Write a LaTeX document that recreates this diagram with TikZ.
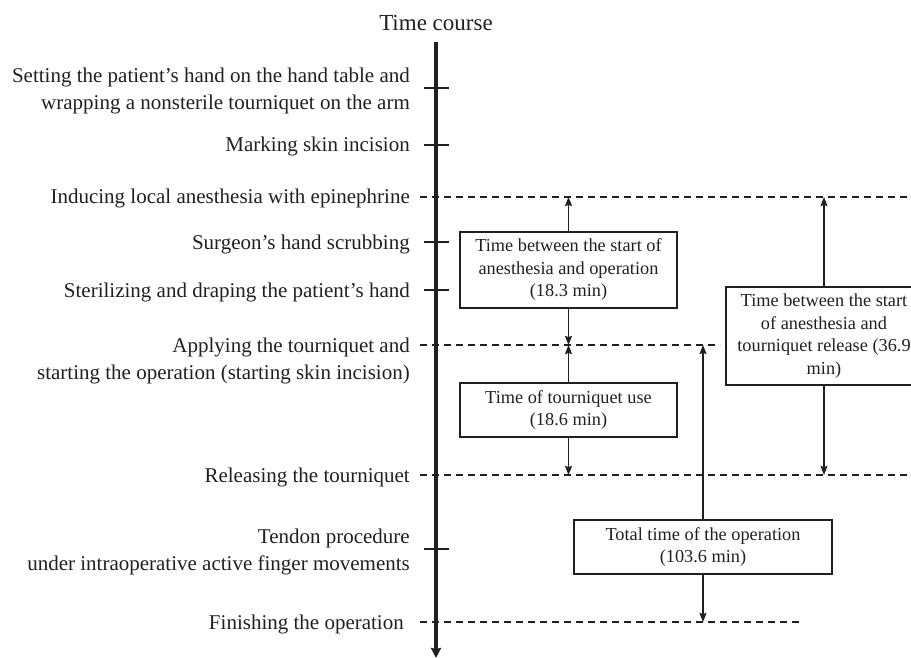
\documentclass[tikz,border=0pt]{standalone}
\usepackage{fontspec}
\setmainfont{Liberation Serif}
\usetikzlibrary{arrows.meta}
\definecolor{ink}{RGB}{35,31,32}
\begin{document}
\begin{tikzpicture}[x=1pt,y=-1pt, color=ink,
  lbl/.style={anchor=base east, inner sep=0pt, font=\fontsize{21}{27}\selectfont, align=right},
  mlbl/.style={anchor=east, inner sep=0pt, font=\fontsize{21}{27}\selectfont, align=right},
  tbox/.style={draw, line width=1.3pt, inner sep=0pt, align=center, font=\fontsize{18.3}{22.5}\selectfont},
  tickln/.style={line width=1.5pt},
  guide/.style={dash pattern=on 7pt off 5pt, line width=1.3pt},
  arr/.style={line width=1.3pt, -{Stealth[length=9pt,width=7pt,inset=1pt]}}
]
\useasboundingbox (0,0) rectangle (911,658);

% axis
\coordinate (axtop) at (436,42);
\coordinate (axbot) at (436,658);
\draw[line width=3.2pt, -{Stealth[length=10pt,width=10pt,inset=1pt]}] (axtop) -- (axbot);
\node[font=\fontsize{23}{27}\selectfont, anchor=base, inner sep=0pt] (title) at (436,31) {Time course};

% ticks
\draw[tickln] (424,88) -- (449,88);
\draw[tickln] (424,145) -- (449,145);
\draw[tickln] (424,242) -- (449,242);
\draw[tickln] (424,290) -- (449,290);
\draw[tickln] (424,549) -- (449,549);

% guide lines
\coordinate (d1a) at (420,197); \coordinate (d1b) at (911,197);
\coordinate (d2a) at (420,345); \coordinate (d2b) at (720,345);
\coordinate (d3a) at (420,475); \coordinate (d3b) at (911,475);
\coordinate (d4a) at (420,622); \coordinate (d4b) at (802,622);
\draw[guide] (d1a) -- (d1b);
\draw[guide] (d2a) -- (d2b);
\draw[guide] (d3a) -- (d3b);
\draw[guide] (d4a) -- (d4b);

% labels
\node[mlbl] (l1) at (410,90.6) {Setting the patient’s hand on the hand table and\\wrapping a nonsterile tourniquet on the arm};
\node[lbl] (l2) at (410,152) {Marking skin incision};
\node[lbl] (l3) at (410,204) {Inducing local anesthesia with epinephrine};
\node[lbl] (l4) at (410,249) {Surgeon’s hand scrubbing};
\node[lbl] (l5) at (410,297) {Sterilizing and draping the patient’s hand};
\node[mlbl] (l6) at (410,360.6) {Applying the tourniquet and\\starting the operation (starting skin incision)};
\node[lbl] (l7) at (410,482) {Releasing the tourniquet};
\node[mlbl] (l8) at (410,551.6) {Tendon procedure\\under intraoperative active finger movements};
\node[lbl] (l9) at (404,629) {Finishing the operation};

% boxes
\node[tbox, minimum width=217pt, minimum height=76pt] (b1) at (568.5,270) {Time between the start of\\anesthesia and operation\\(18.3 min)};
\node[tbox, minimum width=217pt, minimum height=54pt] (b2) at (568.5,410) {Time of tourniquet use\\(18.6 min)};
\node[tbox, minimum width=196pt, minimum height=98pt] (b3) at (824,336) {Time between the start\\of anesthesia and\\tourniquet release (36.9\\min)};
\node[tbox, minimum width=258pt, minimum height=54pt] (b4) at (703,547) {Total time of the operation\\(103.6 min)};

% arrows
\draw[arr] (b1.north) -- (b1.north |- d1a);
\draw[arr] (b1.south) -- (b1.south |- d2a);
\draw[arr] (b2.north) -- (b2.north |- d2a);
\draw[arr] (b2.south) -- (b2.south |- d3a);
\draw[arr] (b3.north) -- (b3.north |- d1a);
\draw[arr] (b3.south) -- (b3.south |- d3a);
\draw[arr] (b4.north) -- (b4.north |- d2a);
\draw[arr] (b4.south) -- (b4.south |- d4a);
\end{tikzpicture}
\end{document}
